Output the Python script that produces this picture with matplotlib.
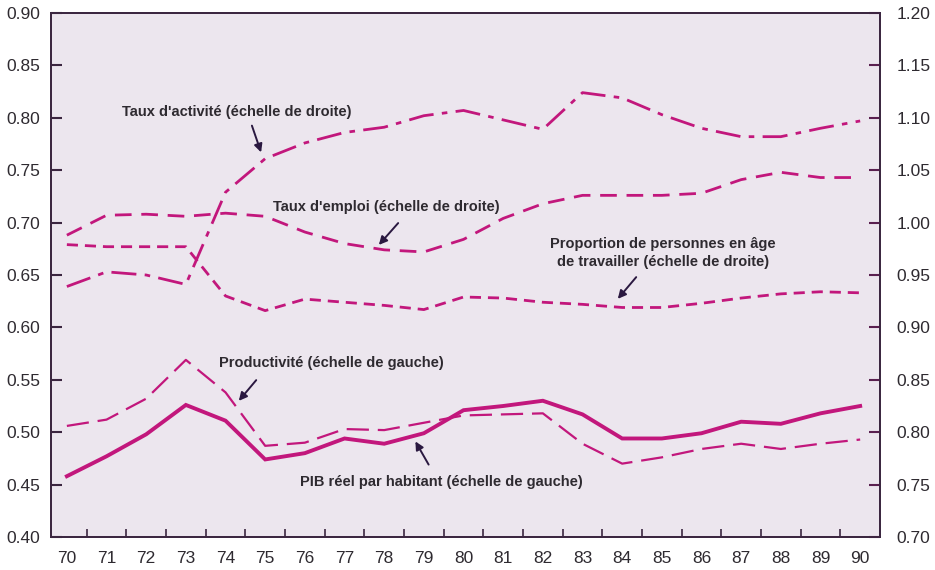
import numpy as np
import matplotlib.pyplot as plt

plt.rcParams['font.family'] = ['Liberation Sans', 'DejaVu Sans']

YEARS = list(range(70, 91))

# left scale
PIB = [0.458, 0.477, 0.498, 0.526, 0.511, 0.474, 0.480, 0.494, 0.489, 0.499, 0.521,
       0.525, 0.530, 0.517, 0.494, 0.494, 0.499, 0.510, 0.508, 0.518, 0.525]
PRODUCTIVITE = [0.506, 0.512, 0.532, 0.569, 0.538, 0.487, 0.490, 0.503, 0.502, 0.509, 0.516,
                0.517, 0.518, 0.489, 0.470, 0.476, 0.484, 0.489, 0.484, 0.489, 0.493]

# right scale
ACTIVITE = [0.939, 0.953, 0.950, 0.941, 1.029, 1.061, 1.076, 1.086, 1.091, 1.102, 1.107,
            1.098, 1.089, 1.124, 1.119, 1.103, 1.090, 1.082, 1.082, 1.090, 1.097]
EMPLOI = [0.988, 1.007, 1.008, 1.006, 1.009, 1.006, 0.991, 0.980, 0.974, 0.972, 0.984,
          1.004, 1.018, 1.026, 1.026, 1.026, 1.028, 1.041, 1.048, 1.043, 1.043]
PROPORTION = [0.979, 0.977, 0.977, 0.977, 0.930, 0.916, 0.927, 0.924, 0.921, 0.917, 0.929,
              0.928, 0.924, 0.922, 0.919, 0.919, 0.923, 0.928, 0.932, 0.934, 0.933]

LINE = '#c2177c'
BG = '#ece6ee'
SPINE = '#3b2640'
TXT = '#2e2a30'

fig = plt.figure(figsize=(9.35, 5.7), dpi=100)
ax = fig.add_axes([51/935, 33/570, 829/935, 524/570])
ax.set_facecolor(BG)
ax2 = ax.twinx()

ax.plot(YEARS, PIB, color=LINE, lw=2.8, solid_joinstyle='miter')
ax.plot(YEARS, PRODUCTIVITE, color=LINE, lw=1.6, dashes=(10, 4))

ax2.plot(YEARS, ACTIVITE, color=LINE, lw=2.0, dashes=(9, 3, 2, 3))
ax2.plot(YEARS, EMPLOI, color=LINE, lw=2.0, dashes=(6, 3.5))
ax2.plot(YEARS, PROPORTION, color=LINE, lw=2.0, dashes=(4, 2.5))

ax.set_xlim(69.6, 90.5)
ax.set_ylim(0.40, 0.90)
ax2.set_ylim(0.70, 1.20)

ax.set_yticks(np.arange(0.40, 0.901, 0.05))
ax.set_yticklabels(['%.2f' % v for v in np.arange(0.40, 0.901, 0.05)])
ax2.set_yticks(np.arange(0.70, 1.201, 0.05))
ax2.set_yticklabels(['%.2f' % v for v in np.arange(0.70, 1.201, 0.05)])

# year labels at integers, tick marks between them
ax.set_xticks(np.arange(70.5, 90, 1.0))
ax.set_xticklabels([])
ax.set_xticks(YEARS, minor=True)
ax.set_xticklabels([str(y) for y in YEARS], minor=True)
ax.tick_params(axis='x', which='minor', length=0, labelsize=12.5, pad=10, labelcolor=TXT)
ax.tick_params(axis='x', which='major', direction='in', length=6, width=1.2, color=SPINE)
ax.tick_params(axis='y', direction='in', length=8, width=1.5, color=SPINE,
               labelsize=12.5, labelcolor=TXT, pad=8)
ax2.tick_params(axis='y', direction='in', length=8, width=1.5, color='#5a2050',
                labelsize=12.5, labelcolor=TXT, pad=12)

for a in (ax, ax2):
    for s in a.spines.values():
        s.set_color(SPINE)
        s.set_linewidth(1.3)


def fp(x, y):
    return (x, 570 - y)


def note(text, tx, ty, tip, tail):
    fig.text(tx/935, 1 - ty/570, text, ha='center', va='center', fontsize=10.5,
             color=TXT, fontweight='bold', linespacing=1.45)
    ax.annotate('', xy=fp(*tip), xytext=fp(*tail), xycoords='figure pixels',
                textcoords='figure pixels',
                arrowprops=dict(arrowstyle='-|>', color='#2a1840', lw=1.4, mutation_scale=12))


note("Taux d'activité (échelle de droite)", 237, 112, (262, 155), (251, 123))
note("Taux d'emploi (échelle de droite)", 386, 207, (377, 247), (400, 221))
note("Proportion de personnes en âge\nde travailler (échelle de droite)", 663, 253,
     (616, 301), (638, 275))
note("Productivité (échelle de gauche)", 331, 363, (237, 403), (258, 378))
note("PIB réel par habitant (échelle de gauche)", 441, 482, (414, 439), (430, 467))

fig.savefig('out.png', dpi=100, facecolor='white')
